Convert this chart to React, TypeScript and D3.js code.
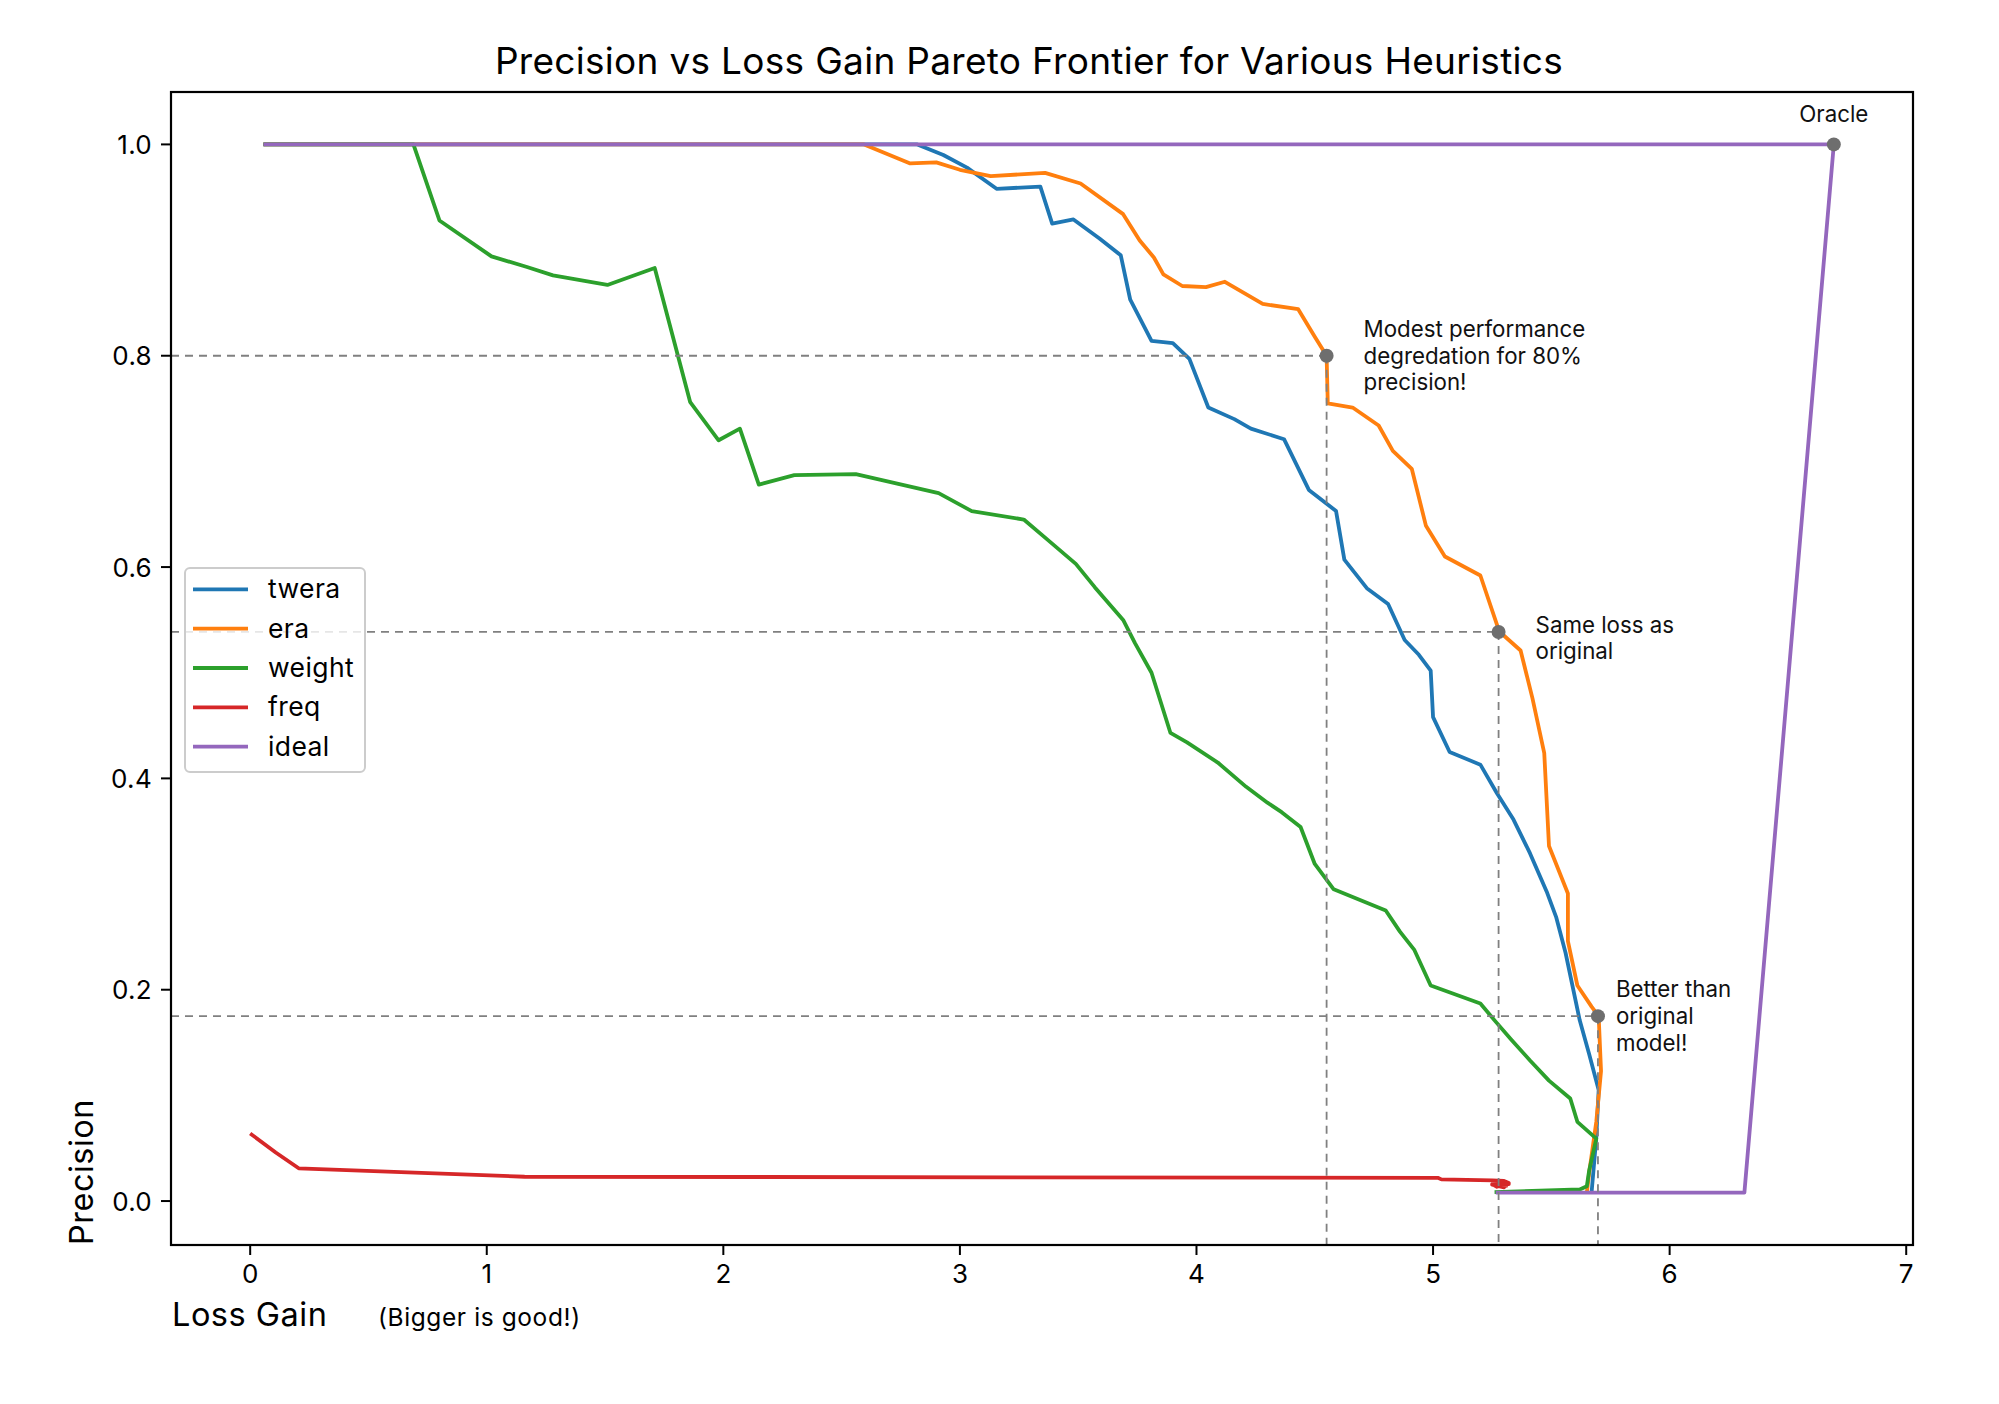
import * as d3 from 'd3'

// loss gain (x) / precision (y) for each heuristic
const TWERA_X = [0.056, 2.82, 2.93, 3.03, 3.155, 3.34, 3.39, 3.48, 3.59, 3.68, 3.72, 3.81, 3.9, 3.97, 4.05, 4.16, 4.23, 4.37, 4.475, 4.59, 4.625, 4.72, 4.81, 4.88, 4.94, 4.99, 5.0, 5.07, 5.2, 5.27, 5.34, 5.41, 5.48, 5.52, 5.56, 5.62, 5.66, 5.7, 5.69, 5.67]
const TWERA_Y = [1.0, 1.0, 0.99, 0.978, 0.958, 0.96, 0.925, 0.929, 0.911, 0.895, 0.853, 0.814, 0.812, 0.797, 0.751, 0.74, 0.731, 0.721, 0.673, 0.653, 0.607, 0.58, 0.565, 0.531, 0.517, 0.502, 0.458, 0.425, 0.413, 0.386, 0.361, 0.329, 0.293, 0.269, 0.235, 0.171, 0.139, 0.105, 0.06, 0.008]

const ERA_X = [0.056, 2.595, 2.79, 2.9, 3.0, 3.13, 3.36, 3.51, 3.69, 3.76, 3.82, 3.86, 3.94, 4.04, 4.12, 4.28, 4.43, 4.5, 4.55, 4.555, 4.66, 4.77, 4.83, 4.91, 4.97, 5.05, 5.2, 5.28, 5.37, 5.42, 5.47, 5.49, 5.57, 5.57, 5.61, 5.67, 5.7, 5.71, 5.69, 5.66, 5.65]
const ERA_Y = [1.0, 1.0, 0.982, 0.983, 0.976, 0.97, 0.973, 0.963, 0.934, 0.909, 0.893, 0.877, 0.866, 0.865, 0.87, 0.849, 0.844, 0.818, 0.8, 0.755, 0.751, 0.734, 0.71, 0.693, 0.639, 0.61, 0.592, 0.539, 0.521, 0.476, 0.424, 0.336, 0.291, 0.246, 0.204, 0.184, 0.175, 0.123, 0.075, 0.027, 0.008]

const WEIGHT_X = [0.056, 0.69, 0.8, 1.02, 1.17, 1.28, 1.51, 1.71, 1.86, 1.98, 2.07, 2.15, 2.3, 2.56, 2.91, 3.05, 3.27, 3.37, 3.49, 3.57, 3.69, 3.74, 3.81, 3.89, 3.96, 4.09, 4.21, 4.3, 4.36, 4.44, 4.5, 4.58, 4.8, 4.86, 4.92, 4.99, 5.2, 5.26, 5.33, 5.41, 5.49, 5.58, 5.61, 5.69, 5.66, 5.65, 5.62, 5.26]
const WEIGHT_Y = [1.0, 1.0, 0.928, 0.894, 0.884, 0.876, 0.867, 0.883, 0.756, 0.72, 0.731, 0.678, 0.687, 0.688, 0.67, 0.653, 0.645, 0.626, 0.603, 0.581, 0.55, 0.528, 0.5, 0.443, 0.434, 0.415, 0.392, 0.377, 0.368, 0.354, 0.319, 0.295, 0.275, 0.255, 0.238, 0.204, 0.187, 0.171, 0.153, 0.133, 0.114, 0.097, 0.075, 0.059, 0.029, 0.014, 0.011, 0.0085]

const FREQ_X = [0.0, 0.108, 0.205, 1.16, 5.02, 5.035, 5.25, 5.3, 5.32, 5.27, 5.25, 5.31, 5.26, 5.3, 5.25, 5.32, 5.28]
const FREQ_Y = [0.064, 0.046, 0.031, 0.023, 0.022, 0.0205, 0.0195, 0.019, 0.017, 0.0135, 0.016, 0.0145, 0.018, 0.013, 0.0155, 0.016, 0.017]

const IDEAL_X = [0.056, 6.694, 6.316, 5.265]
const IDEAL_Y = [1.0, 1.0, 0.008, 0.008]

const SERIES_NAMES = ['twera', 'era', 'weight', 'freq', 'ideal']
const SERIES_X = [TWERA_X, ERA_X, WEIGHT_X, FREQ_X, IDEAL_X]
const SERIES_Y = [TWERA_Y, ERA_Y, WEIGHT_Y, FREQ_Y, IDEAL_Y]
const COLORS = ['#1f77b4', '#ff7f0e', '#2ca02c', '#d62728', '#9467bd']

// highlighted operating points and their notes
const MARK_X = [4.55, 5.277, 5.697]
const MARK_Y = [0.8, 0.5386, 0.175]
const MARK_TEXT = [
  ['Modest performance', 'degredation for 80%', 'precision!'],
  ['Same loss as', 'original'],
  ['Better than', 'original', 'model!'],
]
const ORACLE = { x: 6.694, y: 1.0, label: 'Oracle' }

const X_TICKS = [0, 1, 2, 3, 4, 5, 6, 7]
const Y_TICKS = [0, 0.2, 0.4, 0.6, 0.8, 1.0]

const W = 1999
const H = 1404
const MARGIN = { top: 92, right: 86, bottom: 159, left: 171 }
const FONT = "Inter, 'DejaVu Sans', sans-serif"
const GUIDE = '#808080'
const DOT = '#6e6e6e'

export default function App() {
  const x = d3.scaleLinear().domain([-0.3347, 7.0287]).range([MARGIN.left, W - MARGIN.right])
  const y = d3.scaleLinear().domain([-0.0416, 1.0496]).range([H - MARGIN.bottom, MARGIN.top])
  const x0 = MARGIN.left
  const x1 = W - MARGIN.right
  const y0 = H - MARGIN.bottom
  const y1 = MARGIN.top

  const line = d3
    .line<[number, number]>()
    .x((d) => x(d[0]))
    .y((d) => y(d[1]))

  const noteOffsets = [37, 37, 18]
  const noteShift = [0, 6, 0]
  const lineGap = 26.7

  return (
    <svg width={W} height={H} style={{ position: 'absolute', left: 0, top: 0, background: '#fff' }} fontFamily={FONT}>
      <rect x={0} y={0} width={W} height={H} fill="#fff" />

      <text x={1029} y={74} textAnchor="middle" fontSize={37} letterSpacing={0.3} fill="#000">
        Precision vs Loss Gain Pareto Frontier for Various Heuristics
      </text>

      {SERIES_X.map((xs, i) => (
        <path
          key={SERIES_NAMES[i]}
          d={line(xs.map((v, j) => [v, SERIES_Y[i][j]] as [number, number])) ?? ''}
          fill="none"
          stroke={COLORS[i]}
          strokeWidth={3.8}
          strokeLinejoin="round"
          strokeLinecap="butt"
        />
      ))}

      {/* guide lines to the highlighted points */}
      {MARK_X.map((mx, i) => (
        <g key={`guide-${i}`} stroke={GUIDE} strokeWidth={1.8} strokeDasharray="8 6">
          <line x1={x0} x2={x(mx)} y1={y(MARK_Y[i])} y2={y(MARK_Y[i])} />
          <line x1={x(mx)} x2={x(mx)} y1={y(MARK_Y[i])} y2={y0} />
        </g>
      ))}

      {MARK_X.map((mx, i) => (
        <circle key={`dot-${i}`} cx={x(mx)} cy={y(MARK_Y[i])} r={7} fill={DOT} />
      ))}
      <circle cx={x(ORACLE.x)} cy={y(ORACLE.y)} r={7} fill={DOT} />

      {MARK_X.map((mx, i) => {
        const lines = MARK_TEXT[i]
        const top = y(MARK_Y[i]) - ((lines.length - 1) * lineGap) / 2 + 8 + noteShift[i]
        return (
          <text key={`note-${i}`} fontSize={22.3} fill="#111">
            {lines.map((t, k) => (
              <tspan key={k} x={x(mx) + noteOffsets[i]} y={top + k * lineGap}>
                {t}
              </tspan>
            ))}
          </text>
        )
      })}
      <text x={x(ORACLE.x)} y={y(ORACLE.y) - 22} textAnchor="middle" fontSize={22.3} fill="#111">
        {ORACLE.label}
      </text>

      {/* legend */}
      <g>
        <rect x={185} y={568} width={180} height={204} rx={5} fill="#fff" fillOpacity={0.8} stroke="#cccccc" strokeWidth={2} />
        {SERIES_NAMES.map((name, i) => {
          const cy = 589.3 + i * 39.35
          return (
            <g key={`leg-${name}`}>
              <line x1={193} x2={248} y1={cy} y2={cy} stroke={COLORS[i]} strokeWidth={3.8} />
              <text x={268} y={cy + 9} fontSize={26.5} letterSpacing={0.4} fill="#000">
                {name}
              </text>
            </g>
          )
        })}
      </g>

      {/* spines */}
      <rect x={x0} y={y1} width={x1 - x0} height={y0 - y1} fill="none" stroke="#000" strokeWidth={2.2} />

      {X_TICKS.map((t) => (
        <g key={`xt-${t}`}>
          <line x1={x(t)} x2={x(t)} y1={y0} y2={y0 + 10} stroke="#000" strokeWidth={2} />
          <text x={x(t)} y={y0 + 38} textAnchor="middle" fontSize={26} fill="#000">
            {t}
          </text>
        </g>
      ))}
      {Y_TICKS.map((t) => (
        <g key={`yt-${t}`}>
          <line x1={x0 - 10} x2={x0} y1={y(t)} y2={y(t)} stroke="#000" strokeWidth={2} />
          <text x={x0 - 19} y={y(t) + 9.5} textAnchor="end" fontSize={26} letterSpacing={0.3} fill="#000">
            {d3.format('.1f')(t)}
          </text>
        </g>
      ))}

      <text x={x0 + 1} y={1326} fontSize={32.5} letterSpacing={0.5} fill="#000">
        Loss Gain
      </text>
      <text x={378} y={1326} fontSize={24.5} letterSpacing={0.6} fill="#000">
        (Bigger is good!)
      </text>
      <text transform={`translate(93,${y0}) rotate(-90)`} fontSize={32.5} letterSpacing={0.5} fill="#000">
        Precision
      </text>
    </svg>
  )
}
